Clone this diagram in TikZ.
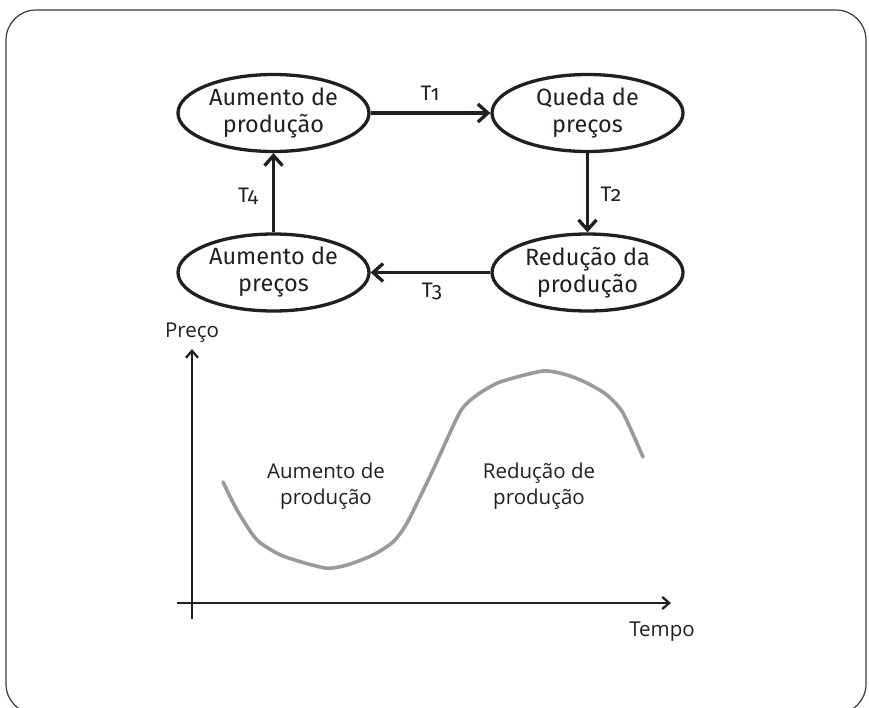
\documentclass[tikz,border=0pt]{standalone}
\usepackage{fontspec}
\setmainfont{Fira Sans}[Numbers=OldStyle]
\newfontfamily\graphfont{Open Sans}
\usetikzlibrary{arrows.meta,shapes.geometric}
\definecolor{ink}{HTML}{231F20}
\definecolor{curvegray}{HTML}{9A9A9A}
\definecolor{framegray}{HTML}{3A3A3A}
\begin{document}
\begin{tikzpicture}[x=1pt,y=-1pt,
  state/.style={ellipse, draw=ink, line width=3.3pt, minimum width=191pt, minimum height=77pt,
    inner sep=0pt, align=center, font=\fontsize{23.5}{27}\selectfont, text=ink},
  flow/.style={draw=ink, line width=3.3pt, -{Straight Barb[length=10pt,width=18pt]}},
  tlabel/.style={font=\fontsize{21}{24}\selectfont, text=ink},
  axisline/.style={draw=ink, line width=2.3pt, -{Straight Barb[length=7pt,width=12pt]}},
  glabel/.style={font=\graphfont\fontsize{20.5}{26}\selectfont, text=ink, align=center},
  pricecurve/.style={draw=curvegray, line width=3.6pt, line join=round, line cap=round}
]
\useasboundingbox (0,0) rectangle (869,707);
\begin{scope}
  \clip (0,0) rectangle (869,707);
  \draw[framegray, line width=1.2pt, rounded corners=30pt] (6,10) rectangle (866,714);
\end{scope}

% cycle diagram
\node[state] (ap)  at (273.5,113)   {Aumento de\\produção};
\node[state] (qp)  at (587.5,113)   {Queda de\\preços};
\node[state] (rp)  at (587.5,272.5) {Redução da\\produção};
\node[state] (apr) at (273.5,272.5) {Aumento de\\preços};

\draw[flow] (ap) -- (qp);
\draw[flow] (qp) -- (rp);
\draw[flow] (rp) -- (apr);
\draw[flow] (apr) -- (ap);

\node[tlabel] (t1) at (430,93)  {T1};
\node[tlabel] (t2) at (611,194) {T2};
\node[tlabel] (t3) at (432,291) {T3};
\node[tlabel] (t4) at (248,196) {T4};

% graph
\coordinate (xs) at (177,603);
\coordinate (xe) at (671,603);
\coordinate (ys) at (192,619);
\coordinate (ye) at (192,349);
\draw[axisline] (xs) -- (xe);
\draw[axisline] (ys) -- (ye);
\node[glabel] (preco) at (192,333) {Preço};
\node[glabel] (tempo) at (662,632) {Tempo};

\draw[pricecurve] plot[smooth, tension=0.4] coordinates {
  (223,482) (237,510) (257,540) (283,556) (325,568) (347,565) (373,555)
  (393,542) (407,523) (433,470) (460,412) (477,395) (500,382) (543,371)
  (567,375) (587,383) (607,395) (623,413) (643,457)};

\node[glabel] (la) at (326,486) {Aumento de\\produção};
\node[glabel] (lr) at (539,486) {Redução de\\produção};
\end{tikzpicture}
\end{document}
